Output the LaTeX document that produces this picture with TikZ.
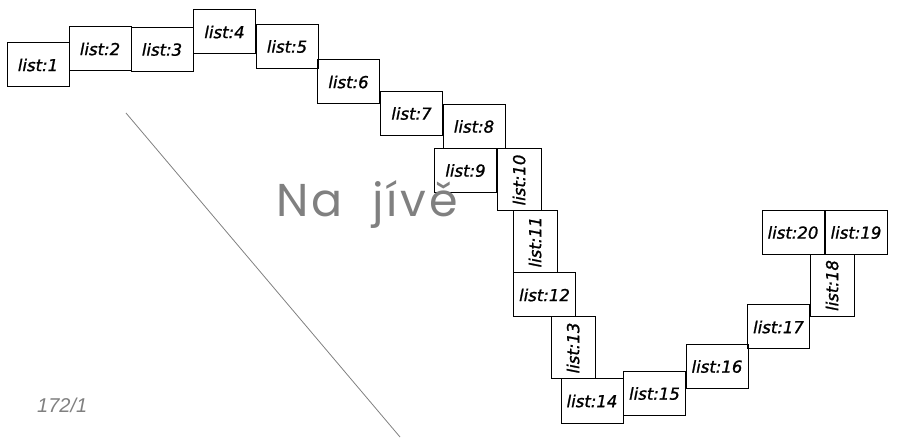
\documentclass[tikz,border=0pt]{standalone}
\usepackage{fontspec}
\newfontfamily\boxfont[FakeBold=1.2]{DejaVu Sans}
\newfontfamily\bigfont[LetterSpace=6]{Poppins}
\newfontfamily\smallfont{Liberation Sans}
\definecolor{linegray}{RGB}{128,128,128}
\begin{document}
\begin{tikzpicture}[x=1pt,y=-1pt,
  sheet/.style={draw=black,line width=1pt,minimum width=62pt,minimum height=44pt,inner sep=0pt,
     font=\boxfont\itshape\fontsize{16.5}{18}\selectfont},
  vsheet/.style={sheet,rotate=90}]
\useasboundingbox (0,0) rectangle (900,438);
\node[sheet] (s1) at (38,65) {list:1};
\node[sheet] (s2) at (100,49) {list:2};
\node[sheet] (s3) at (162,49.5) {list:3};
\node[sheet] (s4) at (224.5,32) {list:4};
\node[sheet] (s5) at (287,46.5) {list:5};
\node[sheet] (s6) at (348.5,82) {list:6};
\node[sheet] (s7) at (411.5,113.5) {list:7};
\node[sheet] (s8) at (474,126.5) {list:8};
\node[sheet] (s9) at (465.5,170.5) {list:9};
\node[vsheet] (s10) at (519,180) {list:10};
\node[vsheet] (s11) at (535,242) {list:11};
\node[sheet] (s12) at (544.5,295) {list:12};
\node[vsheet] (s13) at (573,348) {list:13};
\node[sheet] (s14) at (592,401) {list:14};
\node[sheet] (s15) at (654.5,393.5) {list:15};
\node[sheet] (s16) at (717,366.5) {list:16};
\node[sheet] (s17) at (778.5,327) {list:17};
\node[vsheet] (s18) at (832,285.5) {list:18};
\node[sheet] (s19) at (856,232.5) {list:19};
\node[sheet] (s20) at (793,232.5) {list:20};
\coordinate (d1) at (126,113);
\coordinate (d2) at (400,437);
\draw[linegray,line width=0.8pt] (d1) -- (d2);
\node[anchor=base west,inner sep=0pt,text=linegray,font=\bigfont\fontsize{46}{50}\selectfont] (title) at (276,217) {Na\ \ jívě};
\node[anchor=base west,inner sep=0pt,text=linegray,font=\smallfont\itshape\fontsize{20}{22}\selectfont] (num) at (37,413) {172/1};
\end{tikzpicture}
\end{document}
